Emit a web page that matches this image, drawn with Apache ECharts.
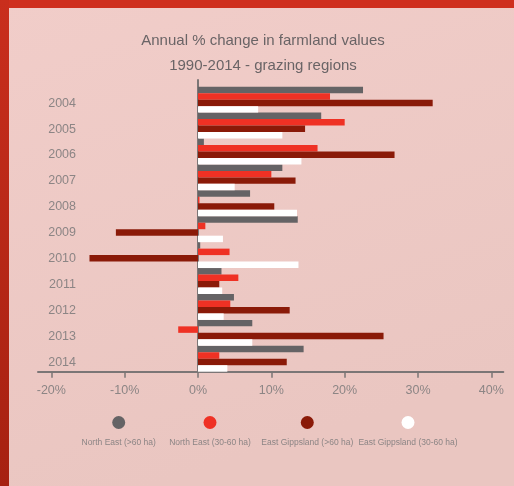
<!DOCTYPE html>
<html>
<head>
<meta charset="utf-8">
<script src="https://cdn.jsdelivr.net/npm/echarts@6/dist/echarts.min.js"></script>
<style>
  html, body { margin: 0; padding: 0; background: #efcac6; }
  #chart { width: 514px; height: 486px; }
</style>
</head>
<body>
<div id="chart"></div>
<script>
// Years shown on the category axis (top to bottom)
const years = ['2004', '2005', '2006', '2007', '2008', '2009', '2010', '2011', '2012', '2013', '2014'];

// Annual % change in farmland values, by region and property size
const northEastLarge = [22.5, 16.8, 0.8, 11.5, 7.1, 13.6, 0.3, 3.2, 4.9, 7.4, 14.4];
const northEastSmall = [18.0, 20.0, 16.3, 10.0, 0.2, 1.0, 4.3, 5.5, 4.4, -2.7, 2.9];
const gippslandLarge = [32.0, 14.6, 26.8, 13.3, 10.4, -11.2, -14.8, 2.9, 12.5, 25.3, 12.1];
const gippslandSmall = [8.2, 11.5, 14.1, 5.0, 13.5, 3.4, 13.7, 3.3, 3.5, 7.4, 4.0];

const seriesNames = ['North East (>60 ha)', 'North East (30-60 ha)', 'East Gippsland (>60 ha)', 'East Gippsland (30-60 ha)'];
const seriesColors = ['#656365', '#ef3124', '#8a1a08', '#ffffff'];
const seriesData = [northEastLarge, northEastSmall, gippslandLarge, gippslandSmall];

// Percent tick range shown under the chart
const tickMin = -20;
const tickMax = 40;
const tickStep = 10;

const FONT = '"Liberation Sans Narrow", "Liberation Sans", Roboto, sans-serif';
const AXIS_GREY = '#7b7676';
const LABEL_GREY = '#8c8585';

// Text measuring, used to size the condensed-looking labels
const measureCtx = document.createElement('canvas').getContext('2d');
function textWidth(text, size) {
  measureCtx.font = 'normal normal ' + size + 'px ' + FONT;
  return measureCtx.measureText(text).width;
}
function sizeFor(text, width) {
  return 100 * width / textWidth(text, 100);
}

const titleSize = Math.round(sizeFor('Annual % change in farmland values', 229) * 1.06 * 2) / 2;
const yearSize = Math.round(sizeFor('2004', 23) * 1.2 * 2) / 2;
const tickSize = Math.round(sizeFor('-20%', 25) * 1.15 * 2) / 2;
const legendSize = Math.round(sizeFor('North East (>60 ha)', 72) * 1.05 * 2) / 2;

// Legend entries: a coloured dot stacked above each series name, centred on these x positions
const legendCenters = [118.7, 210, 307.3, 408];
const legends = seriesNames.map((name, i) => {
  const w = Math.max(13, textWidth(name, legendSize));
  const rich = {
    d: { width: 13, height: 13, borderRadius: 6.5, backgroundColor: seriesColors[i], align: 'center' },
    t: { fontFamily: FONT, fontSize: legendSize, color: LABEL_GREY, align: 'center', lineHeight: 13, padding: [14, 0, 0, 0] }
  };
  return {
    data: [name],
    left: legendCenters[i] - w / 2 - 5,
    top: 416,
    padding: 0,
    icon: 'none',
    itemWidth: 0,
    itemHeight: 0,
    selectedMode: false,
    formatter: '{d|}\n{t|{name}}',
    textStyle: { rich: rich }
  };
});

const chart = echarts.init(document.getElementById('chart'), null, { renderer: 'canvas' });

const option = {
  backgroundColor: '#efcac6',
  animation: false,
  textStyle: { fontFamily: FONT },
  graphic: [
    {
      type: 'rect', left: 0, top: 0, z: -1, silent: true,
      shape: { width: 514, height: 486 },
      style: {
        fill: { type: 'linear', x: 0, y: 0, x2: 0.3, y2: 1,
          colorStops: [{ offset: 0, color: '#f1cdc9' }, { offset: 1, color: '#eac6c1' }] }
      }
    },
    { type: 'rect', left: 0, top: 0, silent: true, shape: { width: 514, height: 8 }, style: { fill: '#cf2f1e' } },
    {
      type: 'rect', left: 0, top: 0, silent: true,
      shape: { width: 9, height: 486 },
      style: {
        fill: { type: 'linear', x: 0, y: 0, x2: 0, y2: 1,
          colorStops: [{ offset: 0, color: '#c92e1d' }, { offset: 1, color: '#a62111' }] }
      }
    }
  ],
  title: {
    text: 'Annual % change in farmland values\n1990-2014 - grazing regions',
    left: 263,
    top: 28,
    padding: 0,
    textAlign: 'center',
    textStyle: { fontFamily: FONT, fontSize: titleSize, fontWeight: 'normal', color: '#6a6466', lineHeight: 25 }
  },
  legend: legends,
  grid: [
    // bars
    { left: 38, top: 86.7, width: 465.3, height: 285, containLabel: false },
    // percent ticks and the zero line
    { left: 51.33, top: 80, width: 440, height: 291.7, containLabel: false },
    // year labels, sitting slightly below each bar group's centre
    { left: 38, top: 90.2, width: 465.3, height: 285, containLabel: false }
  ],
  xAxis: [
    {
      gridIndex: 0, type: 'value', min: -21.82, max: 41.63,
      axisLine: { show: true, onZero: false, lineStyle: { color: AXIS_GREY, width: 2 } },
      axisTick: { show: false }, axisLabel: { show: false }, splitLine: { show: false }
    },
    {
      gridIndex: 1, type: 'value', min: tickMin, max: tickMax, interval: tickStep,
      axisLine: { show: false, onZero: false },
      axisTick: { show: true, inside: false, length: 6, lineStyle: { color: AXIS_GREY, width: 1.5 } },
      axisLabel: { show: true, margin: 12, fontFamily: FONT, fontSize: tickSize, color: LABEL_GREY, formatter: '{value}%' },
      splitLine: { show: false }
    },
    {
      gridIndex: 2, type: 'value', min: 0, max: 1, show: false
    }
  ],
  yAxis: [
    {
      gridIndex: 0, type: 'category', data: years, inverse: true,
      axisLine: { show: false }, axisTick: { show: false }, splitLine: { show: false },
      axisLabel: { show: false }
    },
    {
      gridIndex: 1, type: 'value', min: 0, max: 1,
      axisLine: { show: true, onZero: true, lineStyle: { color: AXIS_GREY, width: 2 } },
      axisTick: { show: false }, axisLabel: { show: false }, splitLine: { show: false }
    },
    {
      gridIndex: 2, type: 'category', data: years, inverse: true,
      axisLine: { show: false }, axisTick: { show: false }, splitLine: { show: false },
      axisLabel: { margin: -38, fontFamily: FONT, fontSize: yearSize, color: LABEL_GREY }
    }
  ],
  series: seriesNames.map((name, i) => ({
    name: name,
    type: 'bar',
    xAxisIndex: 0,
    yAxisIndex: 0,
    data: seriesData[i],
    barGap: '0%',
    barCategoryGap: '0%',
    itemStyle: { color: seriesColors[i] },
    z: 1
  }))
};

chart.setOption(option);
</script>
</body>
</html>
